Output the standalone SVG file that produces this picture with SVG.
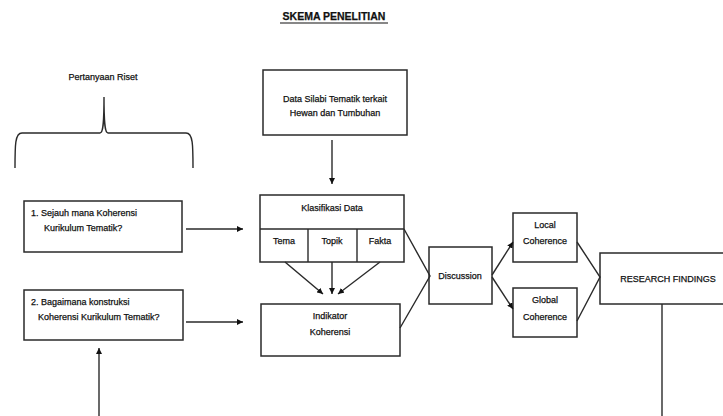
<svg xmlns="http://www.w3.org/2000/svg" width="723" height="416" viewBox="0 0 723 416">
<style>
text{font-family:"Liberation Sans",Arial,sans-serif;font-size:9px;fill:#111;stroke:#111;stroke-width:0.25}
.c{text-anchor:middle}
.box{fill:#fff;stroke:#2a2a2a;stroke-width:1.5}
.ln{fill:none;stroke:#2a2a2a;stroke-width:1.4}
</style>
<defs>
<marker id="ah" viewBox="0 0 10 10" refX="10" refY="5" markerWidth="6" markerHeight="6" markerUnits="userSpaceOnUse" orient="auto">
<path d="M0,0 L10,5 L0,10 z" fill="#111"/>
</marker>
</defs>
<rect width="723" height="416" fill="#fff"/>
<g id="title">
<text class="c" x="334" y="20" style="font-weight:bold;font-size:10.5px">SKEMA PENELITIAN</text>
<line x1="280" y1="23" x2="388" y2="23" stroke="#111" stroke-width="1.2"/>
</g>
<g id="pertanyaan">
<text class="c" x="103" y="80">Pertanyaan Riset</text>
<path class="ln" d="M15,168 C15,145 15,133 22,133 L100,133 C103,133 104,125 104,97 C104,125 105,133 108,133 L186,133 C193,133 193,145 193,168"/>
</g>
<g id="q1">
<rect class="box" x="24" y="201" width="158" height="51"/>
<text x="31" y="216">1. Sejauh  mana Koherensi</text>
<text x="44" y="231">Kurikulum  Tematik?</text>
</g>
<g id="q2">
<rect class="box" x="24" y="290" width="159" height="50"/>
<text x="31" y="305">2. Bagaimana konstruksi</text>
<text x="38" y="320">Koherensi  Kurikulum  Tematik?</text>
</g>
<g id="data">
<rect class="box" x="263" y="70" width="144" height="65"/>
<text class="c" x="335" y="102">Data Silabi Tematik terkait</text>
<text class="c" x="335" y="116">Hewan dan Tumbuhan</text>
</g>
<g id="klasifikasi">
<rect class="box" x="260" y="195" width="144" height="67"/>
<line class="ln" x1="260" y1="229" x2="404" y2="229"/>
<line class="ln" x1="308" y1="229" x2="308" y2="262"/>
<line class="ln" x1="357" y1="229" x2="357" y2="262"/>
<text class="c" x="332" y="211">Klasifikasi Data</text>
<text class="c" x="284" y="244">Tema</text>
<text class="c" x="332" y="244">Topik</text>
<text class="c" x="380" y="244">Fakta</text>
</g>
<g id="indikator">
<rect class="box" x="261" y="304" width="139" height="52"/>
<text class="c" x="330" y="319">Indikator</text>
<text class="c" x="330" y="335">Koherensi</text>
</g>
<g id="discussion">
<rect class="box" x="429" y="247" width="63" height="57"/>
<text class="c" x="460" y="279">Discussion</text>
</g>
<g id="local">
<rect class="box" x="513" y="213" width="64" height="49"/>
<text class="c" x="545" y="228">Local</text>
<text class="c" x="545" y="244">Coherence</text>
</g>
<g id="global">
<rect class="box" x="513" y="288" width="64" height="49"/>
<text class="c" x="545" y="303">Global</text>
<text class="c" x="545" y="320">Coherence</text>
</g>
<g id="findings">
<rect class="box" x="600" y="253" width="140" height="51"/>
<text class="c" x="668" y="282">RESEARCH  FINDINGS</text>
</g>
<g id="connectors">
<line class="ln" x1="186" y1="229" x2="243" y2="229" marker-end="url(#ah)"/>
<line class="ln" x1="186" y1="322" x2="243" y2="322" marker-end="url(#ah)"/>
<line class="ln" x1="99" y1="416" x2="99" y2="348" marker-end="url(#ah)"/>
<line class="ln" x1="332" y1="140" x2="332" y2="184" marker-end="url(#ah)"/>
<line class="ln" x1="285" y1="262" x2="323" y2="294" marker-end="url(#ah)"/>
<line class="ln" x1="332" y1="262" x2="332" y2="294" marker-end="url(#ah)"/>
<line class="ln" x1="380" y1="262" x2="338" y2="294" marker-end="url(#ah)"/>
<polyline class="ln" points="404,229 430,276 400,328"/>
<line class="ln" x1="492" y1="275" x2="513" y2="242" marker-end="url(#ah)"/>
<line class="ln" x1="492" y1="277" x2="513" y2="309" marker-end="url(#ah)"/>
<polyline class="ln" points="577,242 600,277 577,321"/>
<line class="ln" x1="662" y1="304" x2="662" y2="416"/>
</g>
</svg>
